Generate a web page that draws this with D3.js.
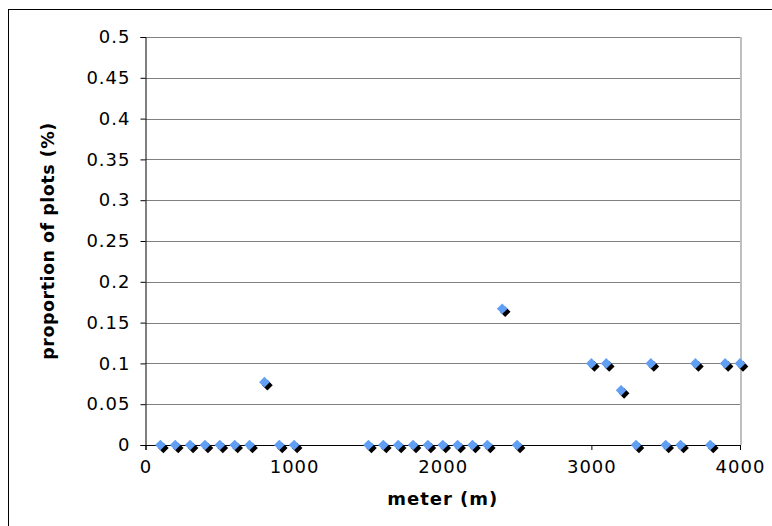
<!DOCTYPE html>
<html>
<head>
<meta charset="utf-8">
<script src="https://cdn.jsdelivr.net/npm/d3@7"></script>
<style>
  body { margin: 0; background: #fff; }
  svg { display: block; }
</style>
</head>
<body>
<div id="chart"></div>
<script>
// distance along transect (m)
const meters = [100, 200, 300, 400, 500, 600, 700, 800, 900, 1000,
  1500, 1600, 1700, 1800, 1900, 2000, 2100, 2200, 2300, 2400, 2500,
  3000, 3100, 3200, 3300, 3400, 3500, 3600, 3700, 3800, 3900, 4000];
// proportion of plots
const proportion = [0, 0, 0, 0, 0, 0, 0, 0.077, 0, 0,
  0, 0, 0, 0, 0, 0, 0, 0, 0, 0.167, 0,
  0.1, 0.1, 0.067, 0, 0.1, 0, 0, 0.1, 0, 0.1, 0.1];
const xTicks = [0, 1000, 2000, 3000, 4000];
const yTicks = [0, 0.05, 0.1, 0.15, 0.2, 0.25, 0.3, 0.35, 0.4, 0.45, 0.5];

const W = 772, H = 526;
const margin = { top: 37, right: 32, bottom: 81, left: 145.5 };
const width = W - margin.left - margin.right;
const height = H - margin.top - margin.bottom;

const svg = d3.select("#chart").append("svg")
  .attr("width", W)
  .attr("height", H)
  .style("font-family", "Verdana, 'DejaVu Sans', sans-serif");

svg.append("rect").attr("width", W).attr("height", H).attr("fill", "#fff");

// outer chart frame
svg.append("rect")
  .attr("x", 8.5).attr("y", 9.5)
  .attr("width", 800).attr("height", 600)
  .attr("fill", "none").attr("stroke", "#000");

const g = svg.append("g").attr("transform", `translate(${margin.left},${margin.top})`);

const x = d3.scaleLinear().domain([0, 4000]).range([0, width]);
const y = d3.scaleLinear().domain([0, 0.5]).range([height, 0]);

// gridlines
g.selectAll(".grid")
  .data(yTicks.filter(d => d > 0))
  .enter().append("line")
  .attr("x1", 0).attr("x2", width)
  .attr("y1", d => Math.round(y(d)) + 0.5).attr("y2", d => Math.round(y(d)) + 0.5)
  .attr("stroke", "#808080");

// right frame of plot area
g.append("line")
  .attr("x1", Math.round(width) + 0.5).attr("x2", Math.round(width) + 0.5)
  .attr("y1", 0).attr("y2", height)
  .attr("stroke", "#808080");

// y axis
const yAxis = g.append("g")
  .call(d3.axisLeft(y).tickValues(yTicks).tickSize(5).tickPadding(10)
    .tickFormat(d => d3.format("")(+d.toFixed(2))));
// x axis
const xAxis = g.append("g")
  .attr("transform", `translate(0,${height})`)
  .call(d3.axisBottom(x).tickValues(xTicks).tickSize(5).tickPadding(10).tickFormat(d3.format("d")));

[xAxis, yAxis].forEach(a => {
  a.select(".domain").attr("stroke", "#000");
  a.selectAll(".tick line").attr("stroke", "#000");
  a.selectAll("text")
    .attr("fill", "#000")
    .style("font-size", "18px")
    .style("letter-spacing", "1px")
    .style("font-family", "Verdana, 'DejaVu Sans', sans-serif");
});

// markers with black drop shadow
const pts = meters.map((m, i) => ({ m, p: proportion[i] }));
const diamond = d3.symbol().type(d3.symbolDiamond2).size(72);

g.append("g").selectAll("path")
  .data(pts).enter().append("path")
  .attr("d", diamond)
  .attr("transform", d => `translate(${x(d.m) + 3},${y(d.p) + 3})`)
  .attr("fill", "#000");

g.append("g").selectAll("path")
  .data(pts).enter().append("path")
  .attr("d", diamond)
  .attr("transform", d => `translate(${x(d.m)},${y(d.p)})`)
  .attr("fill", "#619ff5");

// axis titles
svg.append("text")
  .attr("x", margin.left + width / 2)
  .attr("y", 505)
  .attr("text-anchor", "middle")
  .style("font-size", "18px")
  .style("font-weight", "bold")
  .style("letter-spacing", "1px")
  .text("meter (m)");

svg.append("text")
  .attr("transform", `translate(54,${margin.top + height / 2}) rotate(-90)`)
  .attr("text-anchor", "middle")
  .style("font-size", "17.5px")
  .style("font-weight", "bold")
  .style("letter-spacing", "0.5px")
  .text("proportion of plots (%)");
</script>
</body>
</html>
